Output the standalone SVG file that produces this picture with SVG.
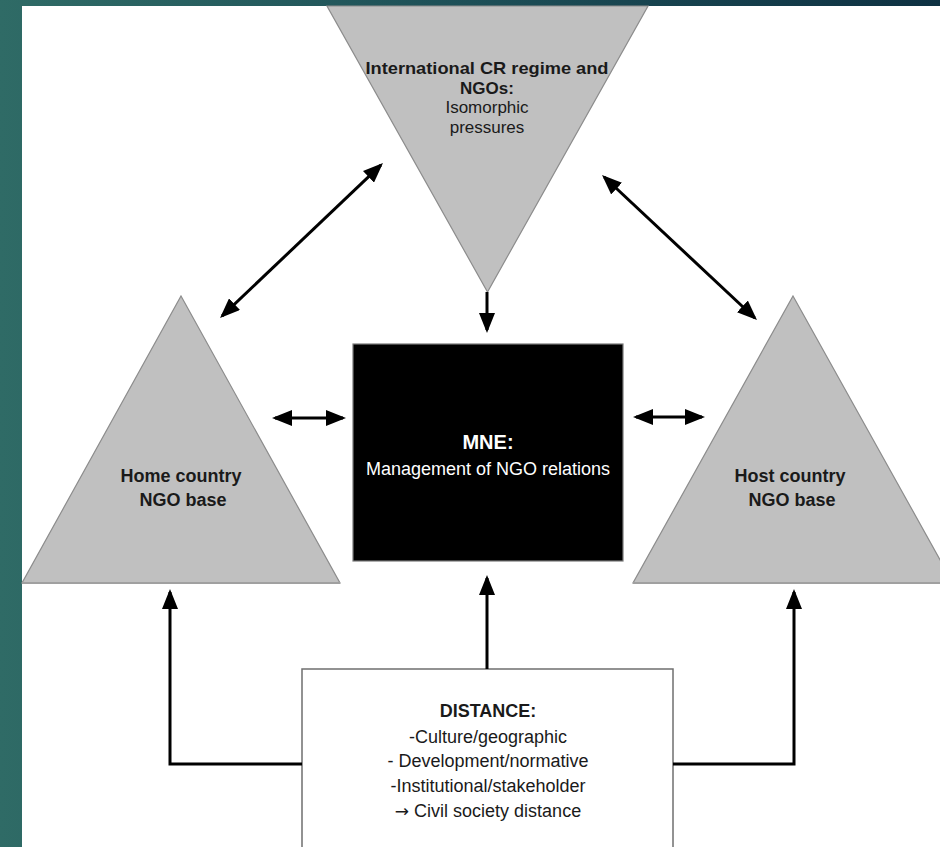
<svg xmlns="http://www.w3.org/2000/svg" width="940" height="847" viewBox="0 0 940 847">
  <defs>
    <linearGradient id="bg" x1="0" y1="0" x2="1" y2="0">
      <stop offset="0" stop-color="#2f6b66"/>
      <stop offset="0.5" stop-color="#1d4f57"/>
      <stop offset="1" stop-color="#0e3142"/>
    </linearGradient>
    <marker id="ah" viewBox="0 0 20 16" markerWidth="20" markerHeight="16" refX="17" refY="8" orient="auto-start-reverse" markerUnits="userSpaceOnUse">
      <path d="M0,0 L20,8 L0,16 z" fill="#000"/>
    </marker>
    <style>
      .tri { fill: #c0c0c0; stroke: #8c8c8c; stroke-width: 1.2; }
      .conn { fill: none; stroke: #000; stroke-width: 3; }
      .b { font-family: "Liberation Sans", Arial, sans-serif; font-weight: bold; font-size: 18px; fill: #1a1a1a; text-anchor: middle; }
      .r { font-family: "Liberation Sans", Arial, sans-serif; font-size: 18px; fill: #1a1a1a; text-anchor: middle; }
      .s { font-size: 17px; }
      .arr { font-family: "DejaVu Sans", sans-serif; font-size: 17px; }
    </style>
  </defs>

  <rect x="0" y="0" width="940" height="847" fill="url(#bg)"/>
  <rect x="22" y="6" width="918" height="841" fill="#ffffff"/>

  <g id="intl">
    <polygon class="tri" points="327,6 648,6 487.5,292"/>
    <text class="b s" x="487" y="74" textLength="243" lengthAdjust="spacingAndGlyphs">International CR regime and</text>
    <text class="b s" x="487" y="93.5">NGOs:</text>
    <text class="r s" x="487" y="113">Isomorphic</text>
    <text class="r s" x="487" y="132.5">pressures</text>
  </g>

  <g id="home">
    <polygon class="tri" points="181,296 340,583 22,583"/>
    <line x1="22" y1="583" x2="340" y2="583" stroke="#a0a0a0" stroke-width="2"/>
    <text class="b" x="181" y="482">Home country</text>
    <text class="b" x="183" y="506">NGO base</text>
  </g>

  <g id="host">
    <polygon class="tri" points="793,296 953,583 633,583"/>
    <line x1="633" y1="583" x2="940" y2="583" stroke="#a0a0a0" stroke-width="2"/>
    <text class="b" x="790" y="482">Host country</text>
    <text class="b" x="792" y="506">NGO base</text>
  </g>

  <g id="mne">
    <rect x="353" y="344" width="270" height="217" fill="#000" stroke="#7a7a7a" stroke-width="1.2"/>
    <text class="b" x="488" y="449" style="fill:#fff;font-size:20px">MNE:</text>
    <text class="r" x="488" y="475" style="fill:#fff">Management of NGO relations</text>
  </g>

  <g id="distance">
    <rect x="302" y="669" width="371" height="200" fill="#fff" stroke="#6f6f6f" stroke-width="1.5"/>
    <text class="b" x="488" y="717">DISTANCE:</text>
    <text class="r" x="488" y="743">-Culture/geographic</text>
    <text class="r" x="488" y="767">- Development/normative</text>
    <text class="r" x="488" y="792">-Institutional/stakeholder</text>
    <text class="r" x="488" y="817"><tspan class="arr">→</tspan> Civil society distance</text>
  </g>

  <g id="connectors">
    <line class="conn" x1="222.2" y1="315.9" x2="380.8" y2="165.1" marker-start="url(#ah)" marker-end="url(#ah)"/>
    <line class="conn" x1="604.2" y1="177" x2="754.8" y2="318" marker-start="url(#ah)" marker-end="url(#ah)"/>
    <line class="conn" x1="487" y1="292" x2="487" y2="330" marker-end="url(#ah)"/>
    <line class="conn" x1="275" y1="418" x2="343" y2="418" marker-start="url(#ah)" marker-end="url(#ah)"/>
    <line class="conn" x1="636" y1="417" x2="702" y2="417" marker-start="url(#ah)" marker-end="url(#ah)"/>
    <line class="conn" x1="487" y1="669" x2="487" y2="578" marker-end="url(#ah)"/>
    <path class="conn" d="M302,764 H170 V592" marker-end="url(#ah)"/>
    <path class="conn" d="M673,764 H794 V592" marker-end="url(#ah)"/>
  </g>
</svg>
